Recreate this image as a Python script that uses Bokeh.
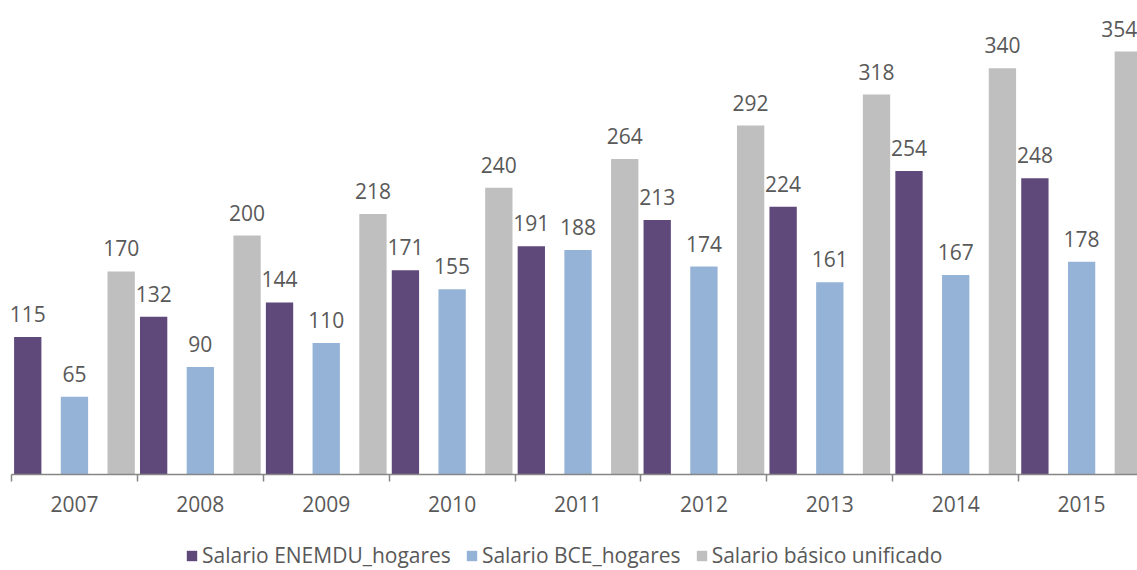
from bokeh.plotting import figure
from bokeh.models import Range1d, FixedTicker, ColumnDataSource, LabelSet
from bokeh.core.properties import value
from bokeh.embed import file_html
from bokeh.resources import INLINE

years = ["2007", "2008", "2009", "2010", "2011", "2012", "2013", "2014", "2015"]
enemdu = [115, 132, 144, 171, 191, 213, 224, 254, 248]
bce = [65, 90, 110, 155, 188, 174, 161, 167, 178]
sbu = [170, 200, 218, 240, 264, 292, 318, 340, 354]
series_names = ["Salario ENEMDU_hogares", "Salario BCE_hogares", "Salario básico unificado"]
colors = ["#5F497A", "#95B3D7", "#BFBFBF"]

FONT = "Open Sans"
TXT = "#595959"

p = figure(width=1137, height=570, output_backend="svg", toolbar_location=None,
           x_range=Range1d(-0.0874, 8.944), y_range=Range1d(-80.3, 396.7),
           min_border=0, min_border_left=0, min_border_right=0,
           min_border_top=0, min_border_bottom=0)
p.outline_line_color = None
p.grid.visible = False
p.yaxis.visible = False
p.background_fill_color = "white"
p.border_fill_color = "white"

offsets = [-0.371, 0.0, 0.371]
width = 0.217
centers = [i + 0.5 for i in range(len(years))]

for k, (vals, name, col, off) in enumerate(zip([enemdu, bce, sbu], series_names, colors, offsets)):
    xs = [c + off for c in centers]
    # keep the last label inside the window (right edge)
    xoff = [0] * len(vals)
    if k == 2:
        xoff[-1] = -9
    src = ColumnDataSource(dict(x=xs, top=vals, lab=[str(v) for v in vals], xo=xoff))
    p.vbar(x="x", top="top", width=width, bottom=0, source=src,
           fill_color=col, line_color=None, legend_label=name)
    p.add_layout(LabelSet(x="x", y="top", text="lab", source=src, x_offset="xo",
                          text_align="center", text_baseline="bottom", y_offset=15,
                          text_font=value(FONT), text_font_size="21px", text_color=TXT))

ax = p.xaxis[0]
ax.ticker = FixedTicker(ticks=centers, minor_ticks=list(range(len(years) + 1)))
ax.major_label_overrides = {c: y for c, y in zip(centers, years)}
ax.fixed_location = 0
ax.bounds = (0, 9)
ax.axis_line_color = "#868686"
ax.axis_line_width = 1.5
ax.major_tick_out = 0
ax.major_tick_in = 0
ax.minor_tick_out = 7
ax.minor_tick_in = 0
ax.minor_tick_line_color = "#868686"
ax.minor_tick_line_width = 1.5
ax.major_label_standoff = 14
ax.major_label_text_font = FONT
ax.major_label_text_font_size = "21px"
ax.major_label_text_color = TXT

lg = p.legend[0]
lg.orientation = "horizontal"
lg.location = (185, 1)
lg.background_fill_alpha = 0
lg.border_line_color = None
lg.padding = 0
lg.margin = 0
lg.spacing = 14
lg.glyph_width = 13
lg.glyph_height = 13
lg.label_standoff = 4
lg.label_text_font = FONT
lg.label_text_font_size = "21px"
lg.label_text_color = TXT

open("out.html", "w").write(file_html(p, INLINE))
